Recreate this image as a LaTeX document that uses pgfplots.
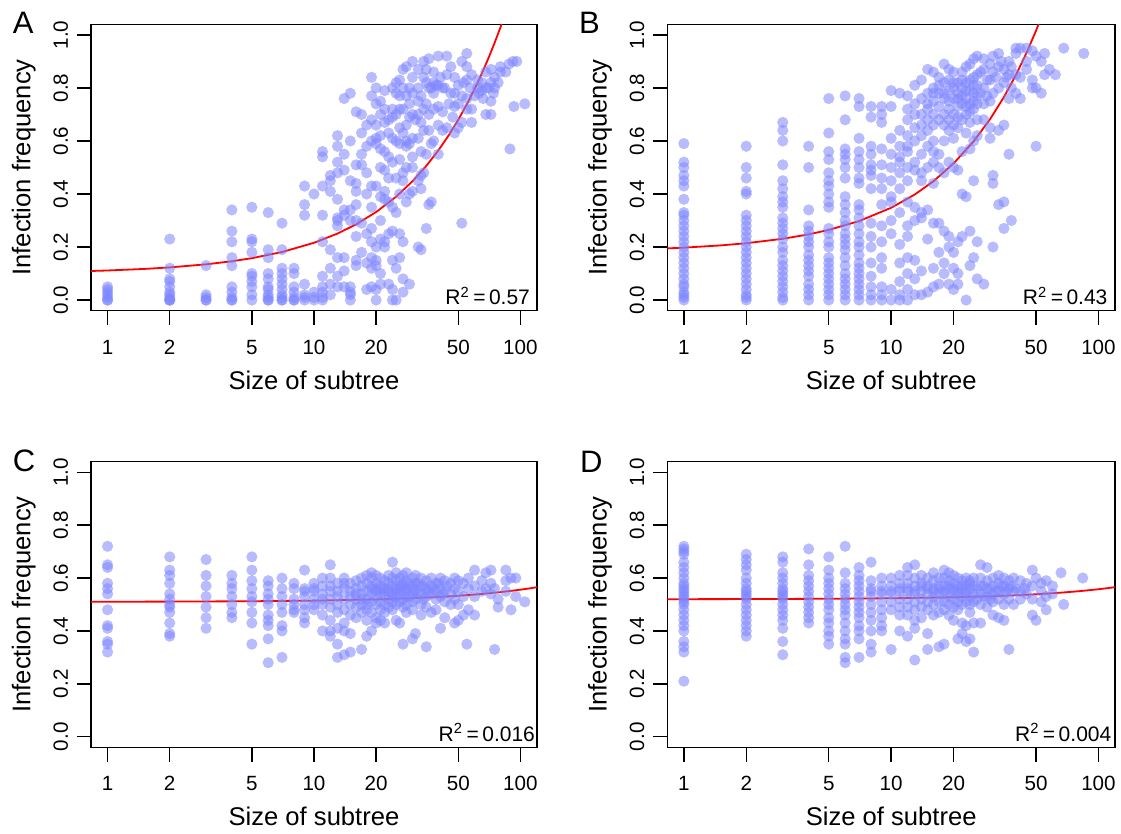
\documentclass[border=0pt]{standalone}
\usepackage{fontspec}
\setmainfont{Liberation Sans}
\usepackage{pgfplots}
\pgfplotsset{compat=1.18}

\definecolor{ptblue}{RGB}{125,133,255}
\newcommand\ticksz{\fontsize{10.3}{12}\selectfont}
\newcommand\labsz{\fontsize{12.8}{15}\selectfont}
\newcommand\rsz{\fontsize{10.5}{12}\selectfont}
\newcommand\letsz{\fontsize{15.5}{18}\selectfont}

\pgfplotsset{
  /pgf/number format/assume math mode=true,
  rpanel/.style={
    scale only axis,
    xmin=0.832, xmax=120.2, ymin=-0.04, ymax=1.04,
    xtick={1,2,5,10,20,50,100}, xticklabels={1,2,5,10,20,50,100},
    ytick={0,0.2,0.4,0.6,0.8,1}, yticklabels={0.0,0.2,0.4,0.6,0.8,1.0},
    minor x tick num=0, minor y tick num=0,
    xtick pos=left, ytick pos=left, tick align=outside,
    major tick length=7.15pt,
    axis line style={line width=0.75pt},
    every tick/.append style={line width=0.75pt, black},
    xticklabel style={font=\ticksz, anchor=base, inner sep=0pt, yshift=-14.55pt},
    yticklabel style={font=\ticksz, xshift=-4.45pt, rotate=90, anchor=base, inner sep=0pt},
    every axis x label/.style={at={(axis description cs:0.5,0)}, yshift=-39.3pt, anchor=base, inner sep=0pt, font=\labsz},
    every axis y label/.style={at={(axis description cs:0,0.5)}, xshift=-30.35pt, rotate=90, anchor=base, inner sep=0pt, font=\labsz},
    xlabel={Size of subtree}, ylabel={Infection frequency},
  },
  scatpts/.style={only marks, mark=*, mark size=2.8pt, mark options={draw opacity=0, line width=0pt, fill=ptblue, fill opacity=0.55}},
  fitline/.style={red, line width=0.9pt, mark=none},
}

\begin{document}
\begin{tikzpicture}

% ---------------- A ----------------
\begin{axis}[xmode=log, rpanel, at={(45.55pt,261.65pt)}, anchor=south west, width=222.9pt, height=143.2pt]
\addplot[scatpts] coordinates {
(1,0) (1,0) (1,0.01) (1,0.02) (1,0.03) (1,0.04) (1,0.05)
(2,0.23) (2,0.12) (2,0.08) (2,0.07) (2,0.05) (2,0.03) (2,0.02) (2,0.01) (2,0) (2,0) (2,0)
(3,0.13) (3,0.02) (3,0.01) (3,0) (3,0)
(4,0.34) (4,0.26) (4,0.22) (4,0.16) (4,0.13) (4,0.05) (4,0.03) (4,0.01) (4,0) (4,0)
(5,0.35) (5,0.23) (5,0.22) (5,0.18) (5,0.10) (5,0.09) (5,0.07) (5,0.05) (5,0.02) (5,0)
(6,0.33) (6,0.19) (6,0.16) (6,0.10) (6,0.08) (6,0.05) (6,0.04) (6,0.02) (6,0.01) (6,0) (6,0)
(7,0.29) (7,0.19) (7,0.12) (7,0.10) (7,0.08) (7,0.06) (7,0.04) (7,0.02) (7,0.01) (7,0) (7,0)
(8,0.12) (8,0.10) (8,0.05) (8,0.03) (8,0.01) (8,0) (8,0)
(9,0.43) (9,0.36) (9,0.32) (9,0.06) (9,0.02) (9,0.01) (9,0)
(10,0.40) (10,0.03) (10,0.01) (10,0)
(11,0.56) (11,0.54) (11,0.43) (11,0.32) (11,0.22) (11,0.09) (11,0.05) (11,0.03) (11,0.01) (11,0)
(12,0.47) (12,0.45) (12,0.41) (12,0.19) (12,0.12) (12,0.06) (12,0.02)
(13,0.62) (13,0.58) (13,0.52) (13,0.48) (13,0.38) (13,0.31) (13,0.30) (13,0.28) (13,0.16) (13,0.09) (13,0.05)
(14,0.76) (14,0.55) (14,0.49) (14,0.34) (14,0.32) (14,0.16) (14,0.11) (14,0.05)
(15,0.78) (15,0.60) (15,0.45) (15,0.34) (15,0.30) (15,0.05) (15,0.03) (15,0.02) (15,0)
(16,0.71) (16,0.51) (16,0.44) (16,0.41) (16,0.36) (16,0.30) (16,0.24) (16,0.15) (16,0.13)
(17,0.70) (17,0.63) (17,0.55) (17,0.51) (17,0.29) (17,0.18)
(18,0.66) (18,0.58) (18,0.48) (18,0.40) (18,0.25) (18,0.14) (18,0.04)
(19,0.84) (19,0.77) (19,0.68) (19,0.60) (19,0.43) (19,0.35) (19,0.27) (19,0.22) (19,0.16) (19,0.12) (19,0.05)
(20,0.80) (20,0.74) (20,0.66) (20,0.61) (20,0.59) (20,0.43) (20,0.20) (20,0.15) (20,0.13) (20,0.04) (20,0)
(21,0.75) (21,0.70) (21,0.62) (21,0.57) (21,0.50) (21,0.39) (21,0.30) (21,0.23) (21,0.10) (21,0.06)
(22,0.79) (22,0.72) (22,0.67) (22,0.56) (22,0.49) (22,0.41) (22,0.38) (22,0.22) (22,0.20)
(23,0.68) (23,0.63) (23,0.54) (23,0.46) (23,0.37) (23,0.25) (23,0.06)
(24,0.80) (24,0.72) (24,0.69) (24,0.61) (24,0.52) (24,0.35) (24,0.26) (24,0.15) (24,0) (24,0.04)
(25,0.82) (25,0.78) (25,0.70) (25,0.60) (25,0.46) (25,0.33) (25,0.12) (25,0)
(26,0.83) (26,0.77) (26,0.72) (26,0.65) (26,0.59) (26,0.53) (26,0.40) (26,0.25) (26,0.16)
(27,0.87) (27,0.80) (27,0.72) (27,0.63) (27,0.48) (27,0.45) (27,0.22) (27,0.08) (27,0.03)
(28,0.88) (28,0.77) (28,0.66) (28,0.60) (28,0.58) (28,0.50) (28,0.37)
(29,0.80) (29,0.74) (29,0.69) (29,0.59) (29,0.40) (29,0.06)
(30,0.90) (30,0.84) (30,0.78) (30,0.70) (30,0.61) (30,0.54) (30,0.50) (30,0.41)
(31,0.68)
(32,0.87) (32,0.80) (32,0.75) (32,0.70) (32,0.61) (32,0.45) (32,0.20)
(33,0.77) (33,0.67) (33,0.56) (33,0.47) (33,0.42) (33,0.19)
(34,0.90) (34,0.84) (34,0.72) (34,0.64) (34,0.48)
(35,0.87) (35,0.82) (35,0.74) (35,0.55) (35,0.27)
(36,0.91) (36,0.80) (36,0.70) (36,0.64) (36,0.36)
(37,0.80) (37,0.59) (37,0.37)
(38,0.86) (38,0.82) (38,0.78) (38,0.72) (38,0.60)
(39,0.81)
(40,0.92) (40,0.81) (40,0.73) (40,0.66) (40,0.55)
(41,0.84)
(42,0.80) (42,0.71) (42,0.64)
(43,0.80)
(44,0.92) (44,0.85) (44,0.65)
(45,0.74)
(46,0.88) (46,0.78)
(47,0.69)
(48,0.84) (48,0.78) (48,0.73) (48,0.63)
(50,0.81) (50,0.74) (50,0.65) (52,0.29)
(52,0.90) (52,0.77) (52,0.67)
(53,0.82)
(55,0.93) (55,0.88) (55,0.83) (55,0.76) (55,0.72)
(57,0.80)
(58,0.85) (58,0.72) (58,0.67)
(60,0.77)
(62,0.83) (62,0.80)
(63,0.78)
(65,0.82) (65,0.79)
(66,0.76)
(68,0.86) (68,0.80) (68,0.70)
(70,0.80)
(72,0.87) (72,0.82) (72,0.75) (72,0.70)
(74,0.78)
(75,0.84) (75,0.80)
(78,0.82)
(80,0.88) (80,0.86)
(85,0.86)
(88,0.89) (89,0.57) (93,0.73)
(92,0.90) (96,0.90) (105,0.74)
};
\addplot[fitline] coordinates {
(0.832,0.1097) (1,0.1116) (1.5,0.1174) (2,0.1232) (3,0.1348) (4,0.1464) (5,0.158) (7,0.1812)
(10,0.216) (13,0.2508) (16,0.2856) (20,0.332) (25,0.39) (30,0.448) (35,0.506) (40,0.564)
(45,0.622) (50,0.68) (55,0.738) (60,0.796) (65,0.854) (70,0.912) (75,0.97) (80,1.028) (85,1.086) (90,1.144)
};
\node[anchor=base east, inner sep=0pt, font=\rsz, xshift=-3.3pt, yshift=2.85pt] at (rel axis cs:1,0) {R\textsuperscript{2}\,=\,0.57};
\end{axis}

% ---------------- B ----------------
\begin{axis}[xmode=log, rpanel, at={(333.65pt,261.65pt)}, anchor=south west, width=223.85pt, height=143.2pt]
\addplot[scatpts] coordinates {
(1,0) (1,0.01) (1,0.02) (1,0.03) (1,0.05) (1,0.06) (1,0.08) (1,0.10) (1,0.12) (1,0.14) (1,0.16) (1,0.18) (1,0.20) (1,0.22)
(1,0.24) (1,0.26) (1,0.28) (1,0.30) (1,0.32) (1,0.33) (1,0.38) (1,0.43) (1,0.45) (1,0.47) (1,0.50) (1,0.52) (1,0.59)
(2,0) (2,0.01) (2,0.02) (2,0.04) (2,0.06) (2,0.08) (2,0.10) (2,0.12) (2,0.14) (2,0.16) (2,0.18) (2,0.20)
(2,0.22) (2,0.24) (2,0.26) (2,0.28) (2,0.30) (2,0.32) (2,0.40) (2,0.41) (2,0.46) (2,0.50) (2,0.58)
(3,0) (3,0.01) (3,0.03) (3,0.05) (3,0.07) (3,0.09) (3,0.11) (3,0.13) (3,0.15) (3,0.18) (3,0.20) (3,0.23) (3,0.25)
(3,0.27) (3,0.29) (3,0.31) (3,0.35) (3,0.37) (3,0.39) (3,0.42) (3,0.45) (3,0.51) (3,0.60) (3,0.64) (3,0.67)
(4,0) (4,0.02) (4,0.04) (4,0.06) (4,0.09) (4,0.11) (4,0.13) (4,0.15) (4,0.17) (4,0.20) (4,0.22) (4,0.24) (4,0.26)
(4,0.28) (4,0.34) (4,0.50) (4,0.58)
(5,0) (5,0.02) (5,0.04) (5,0.06) (5,0.08) (5,0.10) (5,0.12) (5,0.14) (5,0.16) (5,0.20) (5,0.22) (5,0.25)
(5,0.27) (5,0.35) (5,0.37) (5,0.40) (5,0.43) (5,0.45) (5,0.48) (5,0.53) (5,0.56) (5,0.63) (5,0.76)
(6,0) (6,0.02) (6,0.04) (6,0.06) (6,0.08) (6,0.10) (6,0.13) (6,0.16) (6,0.19) (6,0.21) (6,0.23) (6,0.25)
(6,0.28) (6,0.30) (6,0.33) (6,0.36) (6,0.39) (6,0.46) (6,0.50) (6,0.53) (6,0.55) (6,0.57) (6,0.68) (6,0.77)
(7,0) (7,0.02) (7,0.04) (7,0.06) (7,0.08) (7,0.10) (7,0.12) (7,0.14) (7,0.17) (7,0.20) (7,0.22) (7,0.25)
(7,0.28) (7,0.31) (7,0.34) (7,0.36) (7,0.44) (7,0.46) (7,0.50) (7,0.53) (7,0.56) (7,0.61) (7,0.73) (7,0.76)
(8,0) (8,0.02) (8,0.05) (8,0.09) (8,0.14) (8,0.20) (8,0.24) (8,0.29) (8,0.42) (8,0.47) (8,0.49) (8,0.51)
(8,0.55) (8,0.58) (8,0.69) (8,0.73)
(9,0) (9,0.02) (9,0.05) (9,0.12) (9,0.16) (9,0.22) (9,0.28) (9,0.36) (9,0.42) (9,0.46) (9,0.51) (9,0.57)
(9,0.67) (9,0.70) (9,0.73)
(10,0) (10,0.04) (10,0.25) (10,0.30) (10,0.37) (10,0.39) (10,0.45) (10,0.50) (10,0.55) (10,0.61) (10,0.73) (10,0.79)
(11,0) (11,0.02) (11,0.07) (11,0.14) (11,0.21) (11,0.33) (11,0.42) (11,0.48) (11,0.52) (11,0.54) (11,0.58) (11,0.64) (11,0.78)
(12,0) (12,0.04) (12,0.10) (12,0.16) (12,0.24) (12,0.28) (12,0.37) (12,0.45) (12,0.50) (12,0.56) (12,0.58) (12,0.62)
(12,0.68) (12,0.72) (12,0.77)
(13,0.02) (13,0.08) (13,0.15) (13,0.30) (13,0.35) (13,0.49) (13,0.52) (13,0.60) (13,0.65) (13,0.70) (13,0.74) (13,0.81)
(14,0.02) (14,0.11) (14,0.31) (14,0.33) (14,0.45) (14,0.48) (14,0.55) (14,0.62) (14,0.66) (14,0.70) (14,0.76) (14,0.83)
(15,0.03) (15,0.23) (15,0.34) (15,0.50) (15,0.58) (15,0.64) (15,0.68) (15,0.72) (15,0.74) (15,0.78) (15,0.87)
(16,0.05) (16,0.12) (16,0.29) (16,0.44) (16,0.52) (16,0.56) (16,0.60) (16,0.66) (16,0.70) (16,0.75) (16,0.78) (16,0.80) (16,0.86)
(17,0.06) (17,0.18) (17,0.29) (17,0.50) (17,0.55) (17,0.68) (17,0.73) (17,0.78) (17,0.81) (17,0.84)
(18,0.10) (18,0.14) (18,0.26) (18,0.48) (18,0.60) (18,0.66) (18,0.70) (18,0.76) (18,0.78) (18,0.82) (18,0.89)
(19,0.06) (19,0.20) (19,0.24) (19,0.52) (19,0.64) (19,0.68) (19,0.72) (19,0.75) (19,0.79) (19,0.83) (19,0.87)
(20,0.04) (20,0.12) (20,0.18) (20,0.50) (20,0.61) (20,0.66) (20,0.70) (20,0.76) (20,0.80) (20,0.82) (20,0.86)
(21,0.06) (21,0.10) (21,0.22) (21,0.49) (21,0.65) (21,0.69) (21,0.73) (21,0.76) (21,0.78) (21,0.82)
(22,0.24) (22,0.40) (22,0.56) (22,0.68) (22,0.74) (22,0.77) (22,0.80) (22,0.83) (22,0.86)
(23,0) (23,0.39) (23,0.63) (23,0.70) (23,0.73) (23,0.76) (23,0.79) (23,0.82) (23,0.88)
(24,0.13) (24,0.26) (24,0.57) (24,0.67) (24,0.71) (24,0.74) (24,0.79) (24,0.83) (24,0.89)
(25,0.16) (25,0.45) (25,0.60) (25,0.72) (25,0.75) (25,0.78) (25,0.81) (25,0.84) (25,0.91)
(26,0.08) (26,0.22) (26,0.62) (26,0.68) (26,0.74) (26,0.77) (26,0.81) (26,0.85) (26,0.92)
(27,0.78) (27,0.86)
(28,0.06) (28,0.68) (28,0.74) (28,0.80) (28,0.87) (28,0.91)
(29,0.77) (29,0.83)
(30,0.61) (30,0.65) (30,0.75) (30,0.83) (30,0.89)
(31,0.20) (31,0.44) (31,0.47) (31,0.78) (31,0.86) (31,0.92)
(32,0.84)
(33,0.36) (33,0.64) (33,0.80) (33,0.88) (33,0.93)
(34,0.90)
(35,0.27) (35,0.37) (35,0.66) (35,0.82) (35,0.87)
(36,0.84)
(37,0.55) (37,0.76) (37,0.85) (37,0.90)
(38,0.30) (38,0.80) (38,0.88)
(40,0.78) (40,0.85) (40,0.93) (40,0.95)
(42,0.76) (42,0.84) (42,0.95)
(45,0.87) (45,0.90) (45,0.95)
(48,0.83) (48,0.80) (48,0.94)
(50,0.58) (50,0.92) (50,0.80)
(53,0.78) (53,0.90) (55,0.85) (55,0.93)
(58,0.87) (62,0.85) (68,0.95) (85,0.93)
};
\addplot[fitline] coordinates {
(0.832,0.1949) (1,0.1977) (1.5,0.2061) (2,0.2144) (3,0.2311) (4,0.2478) (5,0.2645) (7,0.2979)
(10,0.348) (13,0.3981) (16,0.4482) (20,0.515) (25,0.5985) (30,0.682) (35,0.7655) (40,0.849)
(45,0.9325) (50,1.016) (55,1.0995) (60,1.183)
};
\node[anchor=base east, inner sep=0pt, font=\rsz, xshift=-3.6pt, yshift=2.85pt] at (rel axis cs:1,0) {R\textsuperscript{2}\,=\,0.43};
\end{axis}

% ---------------- C ----------------
\begin{axis}[xmode=log, rpanel, at={(45.55pt,43.35pt)}, anchor=south west, width=222.9pt, height=142.8pt]
\addplot[scatpts] coordinates {
(1,0.72) (1,0.65) (1,0.64) (1,0.58) (1,0.56) (1,0.54) (1,0.48) (1,0.42) (1,0.41) (1,0.36) (1,0.35) (1,0.32)
(2,0.68) (2,0.63) (2,0.61) (2,0.58) (2,0.54) (2,0.52) (2,0.50) (2,0.49) (2,0.47) (2,0.43) (2,0.39) (2,0.38)
(3,0.67) (3,0.61) (3,0.57) (3,0.53) (3,0.49) (3,0.45) (3,0.41)
(4,0.61) (4,0.58) (4,0.56) (4,0.53) (4,0.50) (4,0.47) (4,0.45)
(5,0.68) (5,0.63) (5,0.59) (5,0.56) (5,0.53) (5,0.51) (5,0.47) (5,0.43) (5,0.35)
(6,0.59) (6,0.57) (6,0.54) (6,0.52) (6,0.50) (6,0.46) (6,0.44) (6,0.42) (6,0.37) (6,0.28)
(7,0.60) (7,0.56) (7,0.53) (7,0.50) (7,0.47) (7,0.42) (7,0.40) (7,0.30)
(8,0.58) (8,0.56) (8,0.52) (8,0.50) (8,0.48) (8,0.47)
(9,0.63) (9,0.56) (9,0.55) (9,0.53) (9,0.50) (9,0.48) (9,0.45) (9,0.43)
(10,0.58) (10,0.56) (10,0.55) (10,0.52) (10,0.50) (10,0.48)
(11,0.60) (11,0.57) (11,0.54) (11,0.52) (11,0.50) (11,0.46) (11,0.40)
(12,0.65) (12,0.60) (12,0.57) (12,0.55) (12,0.52) (12,0.49) (12,0.44) (12,0.38) (12,0.40)
(13,0.58) (13,0.55) (13,0.53) (13,0.50) (13,0.47) (13,0.30) (13,0.35) (13,0.41)
(14,0.60) (14,0.58) (14,0.56) (14,0.52) (14,0.48) (14,0.43) (14,0.40) (14,0.31)
(15,0.58) (15,0.55) (15,0.53) (15,0.50) (15,0.46) (15,0.39) (15,0.32)
(16,0.59) (16,0.56) (16,0.54) (16,0.52) (16,0.49) (16,0.45)
(17,0.60) (17,0.57) (17,0.54) (17,0.52) (17,0.50) (17,0.47) (17,0.33)
(18,0.61) (18,0.58) (18,0.55) (18,0.52) (18,0.50) (18,0.48) (18,0.44) (18,0.38)
(19,0.62) (19,0.60) (19,0.57) (19,0.56) (19,0.54) (19,0.51) (19,0.47) (19,0.40)
(20,0.61) (20,0.58) (20,0.56) (20,0.55) (20,0.53) (20,0.50) (20,0.45) (20,0.43)
(21,0.60) (21,0.57) (21,0.56) (21,0.54) (21,0.51) (21,0.48) (21,0.44)
(22,0.59) (22,0.56) (22,0.55) (22,0.53) (22,0.50) (22,0.47) (22,0.43)
(23,0.61) (23,0.58) (23,0.56) (23,0.55) (23,0.52) (23,0.49)
(24,0.66) (24,0.60) (24,0.57) (24,0.54) (24,0.53) (24,0.51) (24,0.48)
(25,0.62) (25,0.59) (25,0.56) (25,0.55) (25,0.53) (25,0.50) (25,0.44)
(26,0.60) (26,0.57) (26,0.56) (26,0.54) (26,0.51) (26,0.43)
(27,0.61) (27,0.58) (27,0.57) (27,0.55) (27,0.52) (27,0.49) (27,0.35)
(28,0.62) (28,0.59) (28,0.56) (28,0.55) (28,0.53) (28,0.50) (28,0.47)
(29,0.58) (29,0.53)
(30,0.60) (30,0.57) (30,0.56) (30,0.54) (30,0.51) (30,0.48) (30,0.37)
(31,0.61) (31,0.58) (31,0.55) (31,0.52) (31,0.39)
(32,0.58) (32,0.54)
(33,0.60) (33,0.57) (33,0.54) (33,0.50) (33,0.46)
(34,0.57) (34,0.52)
(35,0.59) (35,0.56) (35,0.53) (35,0.49) (35,0.34)
(36,0.55)
(37,0.60) (37,0.57) (37,0.54) (37,0.47)
(38,0.56)
(39,0.58) (39,0.55) (39,0.52) (39,0.48)
(40,0.58)
(41,0.60) (41,0.56) (41,0.53) (41,0.41)
(42,0.54)
(43,0.59) (43,0.55) (43,0.51) (43,0.45)
(44,0.57)
(46,0.58) (46,0.54) (46,0.50)
(48,0.60) (48,0.56) (48,0.52) (48,0.43)
(50,0.59) (50,0.55) (50,0.50) (50,0.44)
(53,0.58) (53,0.53) (53,0.46) (55,0.35)
(56,0.60) (56,0.56) (56,0.48)
(60,0.63) (60,0.57) (60,0.53) (60,0.46)
(65,0.59) (65,0.55) (68,0.62) (68,0.56)
(72,0.63) (72,0.58) (72,0.54) (75,0.33) (75,0.56)
(78,0.52) (78,0.49) (85,0.63) (85,0.59) (85,0.55)
(90,0.60) (90,0.48) (95,0.60) (95,0.53) (105,0.51)
};
\addplot[fitline] coordinates {
(0.832,0.5104) (1,0.5105) (2,0.5109) (5,0.5123) (10,0.5146) (20,0.5192) (30,0.5238) (40,0.5284)
(50,0.533) (60,0.5376) (70,0.5422) (80,0.5468) (90,0.5514) (100,0.556) (110,0.5606) (120.2,0.5653)
};
\node[anchor=base east, inner sep=0pt, font=\rsz, xshift=-0.8pt, yshift=2.8pt] at (rel axis cs:1,0) {R\textsuperscript{2}\,=\,0.016};
\end{axis}

% ---------------- D ----------------
\begin{axis}[xmode=log, rpanel, at={(333.65pt,43.35pt)}, anchor=south west, width=223.85pt, height=142.8pt]
\addplot[scatpts] coordinates {
(1,0.72) (1,0.71) (1,0.70) (1,0.69) (1,0.66) (1,0.64) (1,0.62) (1,0.60) (1,0.58) (1,0.57) (1,0.56) (1,0.55) (1,0.54)
(1,0.53) (1,0.52) (1,0.51) (1,0.50) (1,0.48) (1,0.46) (1,0.44) (1,0.42) (1,0.40) (1,0.36) (1,0.34) (1,0.32) (1,0.21)
(2,0.69) (2,0.67) (2,0.65) (2,0.63) (2,0.60) (2,0.58) (2,0.56) (2,0.55) (2,0.54) (2,0.53) (2,0.52) (2,0.50) (2,0.48)
(2,0.46) (2,0.44) (2,0.42) (2,0.40) (2,0.38)
(3,0.68) (3,0.66) (3,0.62) (3,0.60) (3,0.58) (3,0.56) (3,0.55) (3,0.54) (3,0.53) (3,0.52) (3,0.50) (3,0.48) (3,0.46)
(3,0.44) (3,0.41) (3,0.36) (3,0.31)
(4,0.71) (4,0.65) (4,0.61) (4,0.59) (4,0.57) (4,0.55) (4,0.53) (4,0.51) (4,0.49) (4,0.47) (4,0.45) (4,0.43)
(5,0.68) (5,0.63) (5,0.60) (5,0.58) (5,0.56) (5,0.54) (5,0.52) (5,0.50) (5,0.48) (5,0.45) (5,0.43)
(5,0.40) (5,0.38) (5,0.35)
(6,0.72) (6,0.62) (6,0.58) (6,0.56) (6,0.54) (6,0.52) (6,0.50) (6,0.48) (6,0.46) (6,0.43) (6,0.40)
(6,0.37) (6,0.35) (6,0.30) (6,0.28)
(7,0.64) (7,0.61) (7,0.59) (7,0.57) (7,0.55) (7,0.53) (7,0.51) (7,0.49) (7,0.47) (7,0.45) (7,0.42)
(7,0.40) (7,0.37) (7,0.30)
(8,0.66) (8,0.59) (8,0.56) (8,0.55) (8,0.53) (8,0.50) (8,0.47) (8,0.44) (8,0.40) (8,0.35) (8,0.32)
(9,0.60) (9,0.57) (9,0.55) (9,0.54) (9,0.51) (9,0.48) (9,0.45) (9,0.42) (9,0.40)
(10,0.60) (10,0.57) (10,0.55) (10,0.54) (10,0.51) (10,0.48) (10,0.33)
(11,0.61) (11,0.58) (11,0.56) (11,0.55) (11,0.52) (11,0.49) (11,0.46) (11,0.40)
(12,0.64) (12,0.61) (12,0.58) (12,0.56) (12,0.55) (12,0.52) (12,0.49) (12,0.46) (12,0.38)
(13,0.65) (13,0.60) (13,0.57) (13,0.55) (13,0.54) (13,0.51) (13,0.48) (13,0.44) (13,0.41) (13,0.29)
(14,0.61) (14,0.58) (14,0.57) (14,0.55) (14,0.52) (14,0.49) (14,0.45)
(15,0.60) (15,0.57) (15,0.56) (15,0.54) (15,0.51) (15,0.48) (15,0.39) (15,0.33)
(16,0.62) (16,0.59) (16,0.56) (16,0.55) (16,0.53) (16,0.50) (16,0.46)
(17,0.60) (17,0.57) (17,0.56) (17,0.54) (17,0.51) (17,0.47) (17,0.34)
(18,0.63) (18,0.60) (18,0.57) (18,0.55) (18,0.54) (18,0.51) (18,0.48) (18,0.35)
(19,0.62) (19,0.59) (19,0.57) (19,0.56) (19,0.53) (19,0.50) (19,0.46)
(20,0.61) (20,0.58) (20,0.56) (20,0.55) (20,0.52) (20,0.49) (20,0.44)
(21,0.60) (21,0.57) (21,0.55) (21,0.54) (21,0.51) (21,0.48) (21,0.37)
(22,0.59) (22,0.57) (22,0.56) (22,0.53) (22,0.50) (22,0.43) (22,0.39)
(23,0.60) (23,0.57) (23,0.55) (23,0.54) (23,0.51) (23,0.42) (23,0.36)
(24,0.59) (24,0.58) (24,0.56) (24,0.53) (24,0.50) (24,0.47) (24,0.37)
(25,0.60) (25,0.57) (25,0.54) (25,0.51) (25,0.43) (25,0.32)
(26,0.56) (26,0.52)
(27,0.65) (27,0.60) (27,0.57) (27,0.54) (27,0.50) (27,0.43)
(28,0.57) (28,0.53)
(29,0.64) (29,0.59) (29,0.56) (29,0.53) (29,0.49)
(30,0.56) (30,0.52)
(31,0.60) (31,0.57) (31,0.54) (31,0.51) (31,0.46)
(32,0.55)
(33,0.61) (33,0.58) (33,0.55) (33,0.52) (33,0.45)
(34,0.57)
(35,0.60) (35,0.57) (35,0.54) (35,0.50) (35,0.44)
(36,0.55)
(37,0.59) (37,0.56) (37,0.52) (37,0.33)
(38,0.57)
(39,0.60) (39,0.55) (39,0.50)
(40,0.56)
(42,0.59) (42,0.55) (42,0.52)
(44,0.56)
(45,0.58) (45,0.54)
(48,0.63) (48,0.57) (48,0.46) (48,0.52)
(50,0.60) (50,0.44)
(53,0.58) (53,0.55) (53,0.51)
(56,0.59) (56,0.53) (56,0.48)
(60,0.57) (60,0.54) (66,0.62) (68,0.50) (84,0.60)
};
\addplot[fitline] coordinates {
(0.832,0.52) (1,0.5201) (2,0.5205) (5,0.5216) (10,0.5235) (20,0.5273) (30,0.5311) (40,0.5349)
(50,0.5387) (60,0.5425) (70,0.5463) (80,0.5501) (90,0.5539) (100,0.5577) (110,0.5615) (120.2,0.5654)
};
\node[anchor=base east, inner sep=0pt, font=\rsz, xshift=-1.65pt, yshift=2.8pt] at (rel axis cs:1,0) {R\textsuperscript{2}\,=\,0.004};
\end{axis}

% panel letters
\node[anchor=base west, inner sep=0pt, font=\letsz] at (6.25pt,400.35pt) {A};
\node[anchor=base west, inner sep=0pt, font=\letsz] at (289.3pt,400.35pt) {B};
\node[anchor=base west, inner sep=0pt, font=\letsz] at (6.25pt,181.15pt) {C};
\node[anchor=base west, inner sep=0pt, font=\letsz] at (289.8pt,180.65pt) {D};

\pgfresetboundingbox
\useasboundingbox (0,0) rectangle (560.5pt,417pt);
\end{tikzpicture}
\end{document}
